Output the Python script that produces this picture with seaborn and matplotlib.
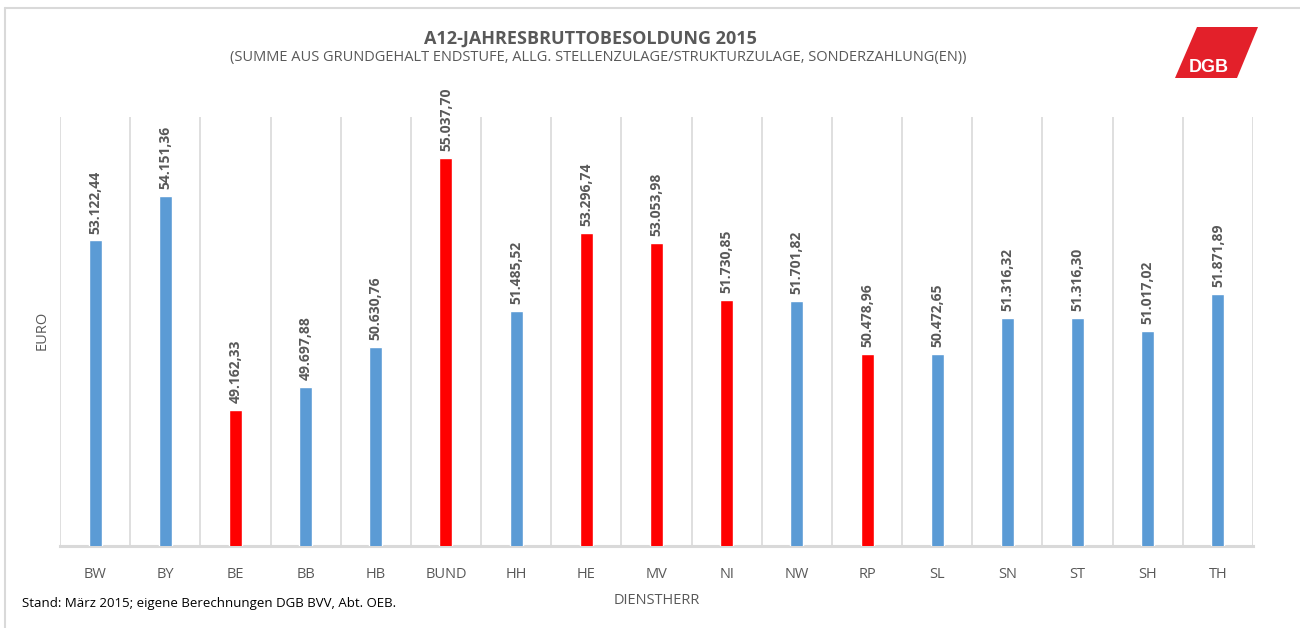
import matplotlib
matplotlib.use("Agg")
import matplotlib.pyplot as plt
import seaborn as sns
import pandas as pd
from matplotlib.patches import Polygon
from matplotlib.lines import Line2D

categories = ["BW", "BY", "BE", "BB", "HB", "BUND", "HH", "HE", "MV", "NI",
              "NW", "RP", "SL", "SN", "ST", "SH", "TH"]
values = [53122.44, 54151.36, 49162.33, 49697.88, 50630.76, 55037.70, 51485.52,
          53296.74, 53053.98, 51730.85, 51701.82, 50478.96, 50472.65, 51316.32,
          51316.30, 51017.02, 51871.89]
highlight = [False, False, True, False, False, True, False, True, True, True,
             False, True, False, False, False, False, False]

BLUE = "#5B9BD5"
RED = "#FF0000"
GRAY_TXT = "#595959"
GRID = "#D9D9D9"

sns.set_theme(style="white")
plt.rcParams["font.family"] = ["Open Sans", "DejaVu Sans"]

W, H = 1300, 628
fig = plt.figure(figsize=(13, 6.28), dpi=100)
ax = fig.add_axes([60 / W, 1 - 546 / H, (1253 - 60) / W, (546 - 117) / H])

df = pd.DataFrame({"Dienstherr": categories, "Euro": values})
palette = {c: (RED if h else BLUE) for c, h in zip(categories, highlight)}
sns.barplot(data=df, x="Dienstherr", y="Euro", hue="Dienstherr", palette=palette,
            width=0.185, legend=False, ax=ax, saturation=1, zorder=3)

ax.set_ylim(46000, 56000)
ax.set_xlim(-0.5, len(categories) - 0.5)

# category separators
for i in range(len(categories) + 1):
    ax.axvline(i - 0.5, color=GRID, lw=1.2, zorder=1)

for s in ["top", "right", "left"]:
    ax.spines[s].set_visible(False)
ax.spines["bottom"].set_color(GRID)
ax.spines["bottom"].set_linewidth(2.2)
ax.set_yticks([])
ax.tick_params(axis="x", length=0, pad=15, labelsize=10.5, labelcolor=GRAY_TXT)

def de_fmt(v):
    s = f"{v:,.2f}"
    return s.replace(",", "X").replace(".", ",").replace("X", ".")

for i, v in enumerate(values):
    ax.annotate(de_fmt(v), (i, v), xytext=(0, 5), textcoords="offset points",
                rotation=90, ha="center", va="bottom", fontsize=10,
                fontweight="bold", color=GRAY_TXT)

ax.set_xlabel("DIENSTHERR", fontsize=10.5, color=GRAY_TXT, labelpad=8)
ax.set_ylabel("")
fig.text(42 / W, 1 - 330 / H, "EURO", rotation=90, ha="center", va="center",
         fontsize=10.5, color=GRAY_TXT)

fig.text(590 / W, 1 - 39 / H, "A12-JAHRESBRUTTOBESOLDUNG 2015", ha="center",
         va="center", fontsize=13, fontweight="bold", color=GRAY_TXT)
fig.text(598 / W, 1 - 58 / H,
         "(SUMME AUS GRUNDGEHALT ENDSTUFE, ALLG. STELLENZULAGE/STRUKTURZULAGE, SONDERZAHLUNG(EN))",
         ha="center", va="center", fontsize=10.5, color=GRAY_TXT)

fig.text(22 / W, 1 - 604 / H, "Stand: März 2015; eigene Berechnungen DGB BVV, Abt. OEB.",
         ha="left", va="center", fontsize=9.5, color="black")

# DGB logo
pts = [(1197, 27), (1258, 27), (1237, 78), (1175, 78)]
poly = Polygon([(x / W, 1 - y / H) for x, y in pts], closed=True,
               transform=fig.transFigure, facecolor="#E3202A", edgecolor="none")
fig.patches.append(poly)
fig.text(1209 / W, 1 - 67 / H, "DGB", ha="center", va="center", fontsize=13,
         fontweight="bold", color="white", family=["Liberation Sans", "DejaVu Sans"])

# outer frame
fig.lines.append(Line2D([5 / W, 5 / W], [0, 1 - 8 / H], transform=fig.transFigure,
                        color=GRID, lw=1.5))
fig.lines.append(Line2D([5 / W, 1], [1 - 8 / H, 1 - 8 / H], transform=fig.transFigure,
                        color=GRID, lw=1.5))

fig.savefig("out.png", dpi=100, facecolor="white")
